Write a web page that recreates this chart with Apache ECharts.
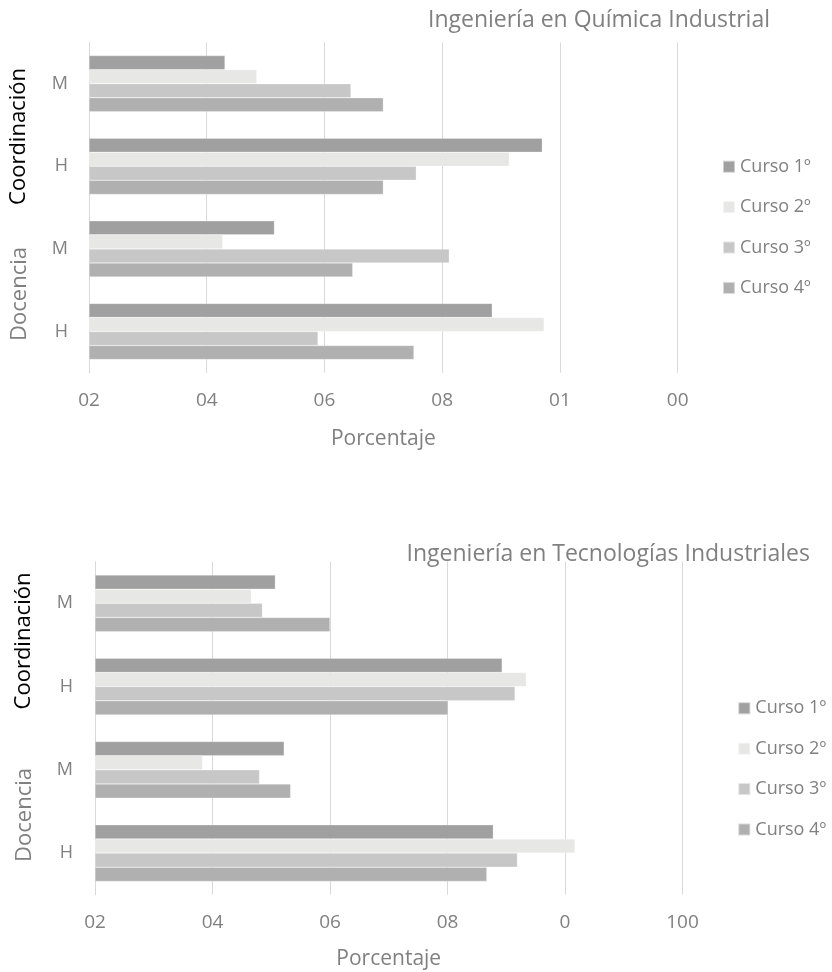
<!DOCTYPE html>
<html>
<head>
<meta charset="utf-8">
<script src="https://cdn.jsdelivr.net/npm/echarts@6/dist/echarts.min.js"></script>
<style>
html,body{margin:0;padding:0;background:#fff;}
#chart{width:832px;height:972px;}
</style>
</head>
<body>
<div id="chart"></div>
<script>
// ---- data ----
const categories = ["M", "H", "M", "H"]; // top to bottom: Coordinación M, Coordinación H, Docencia M, Docencia H
const seriesNames = ["Curso 1º", "Curso 2º", "Curso 3º", "Curso 4º"];
const tickValues = [0, 20, 40, 60, 80, 100];
const tickLabelsTop = ["02", "04", "06", "08", "01", "00"];
const tickLabelsBottom = ["02", "04", "06", "08", "0", "100"];

const quimC1 = [23.1, 77.0, 31.5, 68.5];
const quimC2 = [28.5, 71.4, 22.7, 77.3];
const quimC3 = [44.5, 55.6, 61.2, 38.9];
const quimC4 = [50.0, 50.0, 44.8, 55.2];

const tecC1 = [30.7, 69.3, 32.2, 67.8];
const tecC2 = [26.6, 73.4, 18.3, 81.7];
const tecC3 = [28.5, 71.5, 28.0, 71.9];
const tecC4 = [40.0, 60.1, 33.3, 66.7];

const titleTop = "Ingeniería en Química Industrial";
const titleBottom = "Ingeniería en Tecnologías Industriales";
const axisName = "Porcentaje";
const groupLabels = ["Coordinación", "Docencia"];

// ---- styles ----
const colors = ["#a0a0a0", "#e7e7e6", "#c7c7c7", "#b0b0b0"];
const FONT = "Open Sans";
const GREY = "#808080";
const GRID = "#d9d9d9";

const chart = echarts.init(document.getElementById("chart"), null, {renderer: "canvas"});

function xAxisCfg(gridIndex, labels, margin, nameGap) {
  return {
    type: "value", gridIndex: gridIndex,
    min: tickValues[0], max: tickValues[tickValues.length - 1], interval: 20,
    axisLine: {show: false}, axisTick: {show: false},
    splitLine: {show: true, lineStyle: {color: GRID, width: 1}},
    axisLabel: {
      margin: margin, color: GREY, fontFamily: FONT, fontSize: 19,
      formatter: function (v) { return labels[tickValues.indexOf(v)]; }
    },
    name: axisName, nameLocation: "middle", nameGap: nameGap,
    nameTextStyle: {color: GREY, fontFamily: FONT, fontSize: 21}
  };
}
function yAxisCfg(gridIndex, margin) {
  return {
    type: "category", gridIndex: gridIndex, data: categories, inverse: true,
    axisLine: {show: true, lineStyle: {color: GRID, width: 1}},
    axisTick: {show: false},
    axisLabel: {margin: margin, color: GREY, fontFamily: FONT, fontSize: 18}
  };
}
function barSeries(name, data, idx, axisIdx) {
  return {
    type: "bar", name: name, data: data,
    xAxisIndex: axisIdx, yAxisIndex: axisIdx,
    barGap: "0%", barCategoryGap: "32%",
    itemStyle: {color: colors[idx], borderColor: "rgba(255,255,255,0.5)", borderWidth: 0.5},
    emphasis: {disabled: true}
  };
}
function legendCfg(left, top) {
  return {
    orient: "vertical", left: left, top: top, padding: 0,
    data: seriesNames, icon: "rect", itemWidth: 12, itemHeight: 12,
    itemGap: 20.4, textStyle: {color: GREY, fontFamily: FONT, fontSize: 18, lineHeight: 20}
  };
}

const topSeries = [quimC1, quimC2, quimC3, quimC4];
const botSeries = [tecC1, tecC2, tecC3, tecC4];

const option = {
  animation: false,
  color: colors,
  title: [
    {text: titleTop, right: 62, top: 9, padding: 0,
     textStyle: {color: GREY, fontFamily: FONT, fontSize: 23, fontWeight: "normal"}},
    {text: titleBottom, right: 22, top: 543, padding: 0,
     textStyle: {color: GREY, fontFamily: FONT, fontSize: 23, fontWeight: "normal"}}
  ],
  legend: [legendCfg(722, 156.7), legendCfg(737.3, 698.3)],
  grid: [
    {left: 89, right: 154.3, top: 42.4, height: 330.4, containLabel: false},
    {left: 95, right: 149.5, top: 561.7, height: 333, containLabel: false}
  ],
  xAxis: [xAxisCfg(0, tickLabelsTop, 18, 56), xAxisCfg(1, tickLabelsBottom, 18, 54)],
  yAxis: [yAxisCfg(0, 21), yAxisCfg(1, 22)],
  series: topSeries.map((d, i) => barSeries(seriesNames[i], d, i, 0))
    .concat(botSeries.map((d, i) => barSeries(seriesNames[i], d, i, 1))),
  graphic: [
    {type: "text", x: 19, y: 136.5, rotation: Math.PI / 2,
     style: {text: groupLabels[0], fill: "#000", font: "22px '" + FONT + "'", textAlign: "center", textVerticalAlign: "middle"}},
    {type: "text", x: 19.5, y: 294, rotation: Math.PI / 2,
     style: {text: groupLabels[1], fill: GREY, font: "22px '" + FONT + "'", textAlign: "center", textVerticalAlign: "middle"}},
    {type: "text", x: 24, y: 641, rotation: Math.PI / 2,
     style: {text: groupLabels[0], fill: "#000", font: "22px '" + FONT + "'", textAlign: "center", textVerticalAlign: "middle"}},
    {type: "text", x: 25, y: 815, rotation: Math.PI / 2,
     style: {text: groupLabels[1], fill: GREY, font: "22px '" + FONT + "'", textAlign: "center", textVerticalAlign: "middle"}}
  ]
};
chart.setOption(option);
</script>
</body>
</html>
